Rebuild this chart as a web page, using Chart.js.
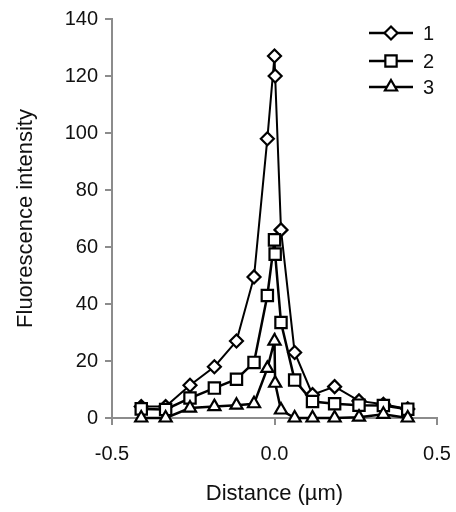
<!DOCTYPE html>
<html>
<head>
<meta charset="utf-8">
<script src="https://cdn.jsdelivr.net/npm/chart.js@4.4.0/dist/chart.umd.min.js"></script>
<style>
  html, body { margin: 0; padding: 0; background: #fff; }
  #wrap { width: 456px; height: 512px; }
</style>
</head>
<body>
<div id="wrap"><canvas id="profileChart" width="456" height="512"></canvas></div>
<script>
// Distance positions (µm) shared by all three profiles
const distance = [-0.41, -0.335, -0.26, -0.185, -0.117, -0.063, -0.022, 0.0, 0.002, 0.02, 0.062, 0.117, 0.185, 0.26, 0.335, 0.41];

// Fluorescence intensity for each profile
const series1 = [4, 4, 11.5, 18, 27, 49.5, 98, 127, 120, 66, 23, 8.2, 11, 6, 4.8, 3.2];
const series2 = [3.2, 3, 7, 10.5, 13.6, 19.5, 43, 62.5, 57.5, 33.5, 13.3, 5.8, 5, 4.5, 4.4, 3.1];
const series3 = [0, 0, 3.5, 4, 4.5, 5, 17.4, 27, 12.2, 2.8, 0, 0, 0, 0.3, 1.3, 0];

const seriesLabels = ['1', '2', '3'];
const markerStyles = ['rectRot', 'rect', 'triangle'];

const yTicks = [0, 20, 40, 60, 80, 100, 120, 140];
const xTicks = [-0.5, 0.0, 0.5];

const FONT = '"Liberation Sans", Arial, sans-serif';
const AXIS_GREY = '#8c8c8c';

function toPoints(values) {
    return values.map((v, i) => ({ x: distance[i], y: v }));
}

// draws the little "line + marker + label" legend in the top right corner
const cornerLegend = {
    id: 'cornerLegend',
    afterDatasetsDraw(chart) {
        const ctx = chart.ctx;
        const rows = [33, 61, 87];
        ctx.save();
        seriesLabels.forEach((lbl, row) => {
            const ds = chart.data.datasets.find(d => d.label === lbl);
            const y = rows[row];
            ctx.strokeStyle = '#000';
            ctx.lineWidth = 2.5;
            ctx.beginPath();
            ctx.moveTo(369, y);
            ctx.lineTo(413, y);
            ctx.stroke();
            ctx.fillStyle = '#fff';
            ctx.strokeStyle = '#000';
            ctx.lineWidth = ds.pointBorderWidth;
            Chart.helpers.drawPoint(ctx, {
                pointStyle: ds.pointStyle,
                radius: ds.pointRadius,
                rotation: 0,
                borderWidth: ds.pointBorderWidth
            }, 391, y);
            ctx.fillStyle = '#111';
            ctx.font = '20px ' + FONT;
            ctx.textAlign = 'left';
            ctx.textBaseline = 'middle';
            ctx.fillText(lbl, 423, y + 1);
        });
        ctx.restore();
    }
};

function makeDataset(i, values, lineWidth, radius) {
    return {
        label: seriesLabels[i],
        data: toPoints(values),
        showLine: true,
        borderColor: '#000',
        borderWidth: lineWidth,
        pointStyle: markerStyles[i],
        pointRadius: radius,
        pointHoverRadius: radius,
        pointBackgroundColor: '#fff',
        pointBorderColor: '#000',
        pointBorderWidth: 2.2,
        tension: 0,
        clip: false
    };
}

const ctx = document.getElementById('profileChart').getContext('2d');

new Chart(ctx, {
    type: 'scatter',
    data: {
        datasets: [
            makeDataset(2, series3, 2.5, 7),
            makeDataset(1, series2, 2.5, 8),
            makeDataset(0, series1, 2, 6.5)
        ]
    },
    options: {
        responsive: false,
        animation: false,
        layout: { padding: { left: 0, right: 19, top: 16, bottom: 0 } },
        plugins: {
            legend: { display: false },
            tooltip: { enabled: false }
        },
        scales: {
            x: {
                type: 'linear',
                min: -0.5,
                max: 0.5,
                afterFit: (scale) => {
                    scale.height = 94;
                    scale.paddingRight = 0;
                    scale.paddingLeft = 0;
                },
                afterBuildTicks: (scale) => { scale.ticks = xTicks.map(v => ({ value: v })); },
                border: { display: true, color: AXIS_GREY, width: 2 },
                grid: { drawOnChartArea: false, drawTicks: true, tickLength: 7, color: AXIS_GREY, lineWidth: 2 },
                ticks: {
                    padding: 17,
                    color: '#111',
                    font: { family: FONT, size: 20 },
                    callback: (v) => Number(v).toFixed(1)
                },
                title: {
                    display: true,
                    text: 'Distance (µm)',
                    color: '#111',
                    font: { family: FONT, size: 22 },
                    padding: { top: 0, bottom: 5 }
                }
            },
            y: {
                type: 'linear',
                min: 0,
                max: 140,
                afterFit: (scale) => { scale.width = 112; },
                afterBuildTicks: (scale) => { scale.ticks = yTicks.map(v => ({ value: v })); },
                border: { display: true, color: AXIS_GREY, width: 2 },
                grid: { drawOnChartArea: false, drawTicks: true, tickLength: 7, color: AXIS_GREY, lineWidth: 2 },
                ticks: {
                    padding: 7,
                    color: '#111',
                    font: { family: FONT, size: 20 }
                },
                title: {
                    display: true,
                    text: 'Fluorescence intensity',
                    color: '#111',
                    font: { family: FONT, size: 22 },
                    padding: { top: 13, bottom: 0 }
                }
            }
        }
    },
    plugins: [cornerLegend]
});
</script>
</body>
</html>
